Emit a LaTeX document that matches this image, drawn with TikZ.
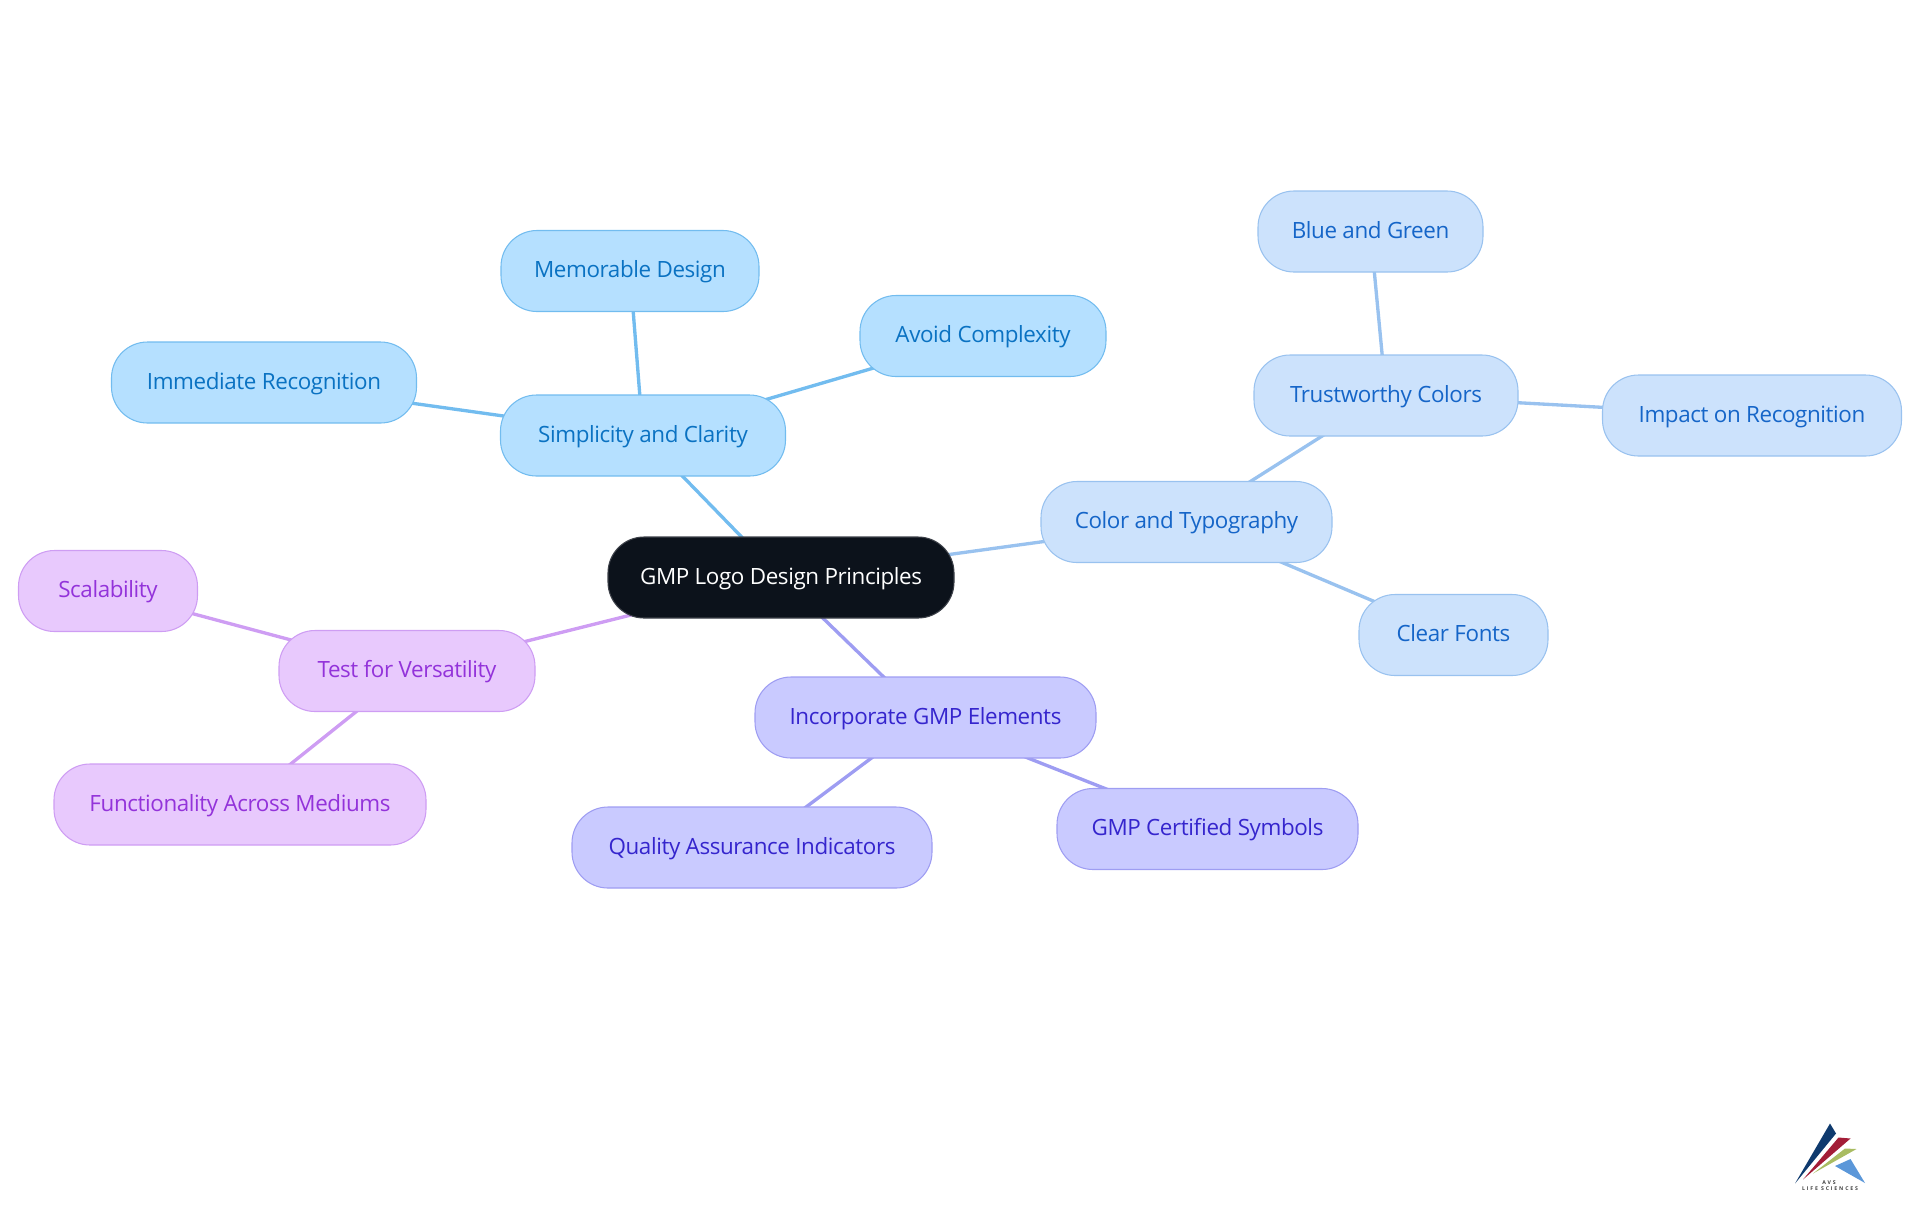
\documentclass[tikz,border=0pt]{standalone}
\usepackage{fontspec}
\setmainfont[LetterSpace=-1.8]{Open Sans}
\newfontfamily\logofont[LetterSpace=35]{Open Sans}
\usetikzlibrary{backgrounds}
\definecolor{rootfill}{HTML}{0C121B}
\definecolor{aF}{HTML}{B5E0FF}\definecolor{aL}{HTML}{72BCEF}\definecolor{aT}{HTML}{0A72C2}
\definecolor{bF}{HTML}{CCE2FC}\definecolor{bL}{HTML}{99C2EF}\definecolor{bT}{HTML}{1565C8}
\definecolor{cF}{HTML}{C9CAFF}\definecolor{cL}{HTML}{9E9DF2}\definecolor{cT}{HTML}{3525CD}
\definecolor{dF}{HTML}{E8C9FD}\definecolor{dL}{HTML}{CE9DF3}\definecolor{dT}{HTML}{9333DA}
\definecolor{logoNavy}{HTML}{0F3A6E}\definecolor{logoRed}{HTML}{A31D37}
\definecolor{logoGreen}{HTML}{A9BC62}\definecolor{logoBlue}{HTML}{5B97D9}
\tikzset{
  box/.style={rounded corners=27pt,inner sep=0pt,line width=0.8pt,minimum height=60.75pt,text height=13.2pt,text depth=3pt,font=\fontsize{16.8pt}{20pt}\selectfont},
  rootbox/.style={box,fill=rootfill,draw=rootfill!80!white,text=white},
  boxA/.style={box,fill=aF,draw=aL,text=aT},
  boxB/.style={box,fill=bF,draw=bL,text=bT},
  boxC/.style={box,fill=cF,draw=cL,text=cT},
  boxD/.style={box,fill=dF,draw=dL,text=dT},
  linkA/.style={draw=aL,line width=2.5pt},
  linkB/.style={draw=bL,line width=2.5pt},
  linkC/.style={draw=cL,line width=2.5pt},
  linkD/.style={draw=dL,line width=2.5pt},
}
\begin{document}
\begin{tikzpicture}[x=0.75pt,y=-0.75pt]
\useasboundingbox (0,0) rectangle (1920,1215);
\node[rootbox,minimum width=259.5pt] (root) at (781,577.5) {GMP Logo Design Principles};
\node[boxA,minimum width=213.75pt] (simp) at (643,435.5) {Simplicity and Clarity};
\node[boxA,minimum width=193.5pt] (memo) at (630,271) {Memorable Design};
\node[boxA,minimum width=184.5pt] (avoid) at (983,336) {Avoid Complexity};
\node[boxA,minimum width=228.75pt] (imm) at (264,382.5) {Immediate Recognition};
\node[boxB,minimum width=218.25pt] (color) at (1186.5,522) {Color and Typography};
\node[boxB,minimum width=198pt] (trust) at (1386,395.5) {Trustworthy Colors};
\node[boxB,minimum width=168.75pt] (blue) at (1370.5,231.5) {Blue and Green};
\node[boxB,minimum width=224.25pt] (impact) at (1752,415.5) {Impact on Recognition};
\node[boxB,minimum width=141.75pt] (clear) at (1453.5,635) {Clear Fonts};
\node[boxC,minimum width=255.75pt] (incorp) at (925.5,717.5) {Incorporate GMP Elements};
\node[boxC,minimum width=270pt] (qual) at (752,847.5) {Quality Assurance Indicators};
\node[boxC,minimum width=225.75pt] (cert) at (1207.5,829) {GMP Certified Symbols};
\node[boxD,minimum width=192pt] (test) at (407,671) {Test for Versatility};
\node[boxD,minimum width=134.25pt] (scal) at (108,591) {Scalability};
\node[boxD,minimum width=279pt] (func) at (240,804.5) {Functionality Across Mediums};
\begin{scope}[on background layer]
\draw[linkA] (root.center) -- (simp.center);
\draw[linkA] (simp.center) -- (memo.center);
\draw[linkA] (simp.center) -- (avoid.center);
\draw[linkA] (simp.center) -- (imm.center);
\draw[linkB] (root.center) -- (color.center);
\draw[linkB] (color.center) -- (trust.center);
\draw[linkB] (color.center) -- (clear.center);
\draw[linkB] (trust.center) -- (blue.center);
\draw[linkB] (trust.center) -- (impact.center);
\draw[linkC] (root.center) -- (incorp.center);
\draw[linkC] (incorp.center) -- (qual.center);
\draw[linkC] (incorp.center) -- (cert.center);
\draw[linkD] (root.center) -- (test.center);
\draw[linkD] (test.center) -- (scal.center);
\draw[linkD] (test.center) -- (func.center);
\end{scope}
% logo
\fill[logoNavy] (1795,1183.5) -- (1830,1123.5) -- (1836,1133.5) -- cycle;
\fill[logoRed] (1803,1179.5) -- (1838.5,1137.5) -- (1850.5,1138.5) -- cycle;
\fill[logoGreen] (1813,1173.5) -- (1845,1148.5) -- (1856.5,1149) -- cycle;
\fill[logoBlue] (1835,1166) -- (1850.5,1159) -- (1865,1183) -- cycle;
\node[font=\logofont\bfseries\fontsize{3.9pt}{4pt}\selectfont,text=black!75,inner sep=0pt] (logoA) at (1829,1182.5) {AVS};
\node[font=\logofont\bfseries\fontsize{3.9pt}{4pt}\selectfont,text=black!75,inner sep=0pt] (logoB) at (1830,1189) {LIFE SCIENCES};
\end{tikzpicture}
\end{document}
